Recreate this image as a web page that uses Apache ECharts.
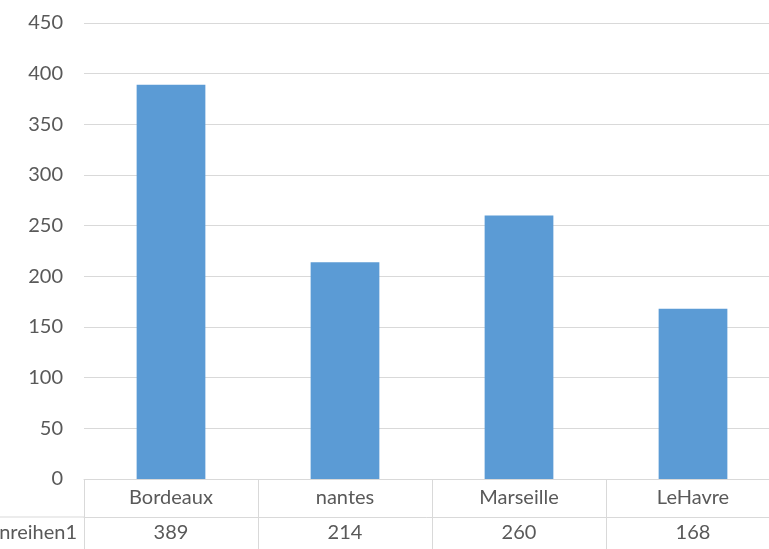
<!DOCTYPE html>
<html>
<head>
<meta charset="utf-8">
<script src="https://cdn.jsdelivr.net/npm/echarts@6/dist/echarts.min.js"></script>
<style>html,body{margin:0;padding:0;background:#fff}#c{width:769px;height:549px}</style>
</head>
<body>
<div id="c"></div>
<script>
const categories = ['Bordeaux', 'nantes', 'Marseille', 'LeHavre'];
const values = [389, 214, 260, 168];
const seriesName = 'Datenreihen1';
const yTicks = { min: 0, max: 450, interval: 50 };

const chart = echarts.init(document.getElementById('c'));
const font = 'Lato, "Noto Sans", sans-serif';
const txt = '#595959';
const line = '#D9D9D9';
chart.setOption({
  animation: false,
  grid: { left: 84, top: 23, width: 696, bottom: 70, containLabel: false, outerBoundsMode: 'none' },
  xAxis: [{
    type: 'category', data: categories, position: 'bottom',
    axisLine: { show: true, lineStyle: { color: line, width: 1 } },
    axisTick: { show: true, length: 70, lineStyle: { color: line, width: 1 } },
    axisLabel: { color: txt, fontFamily: font, fontSize: 20, margin: 9 },
    splitLine: { show: false }
  }, {
    type: 'category', data: values.map(String), position: 'bottom', offset: 38,
    axisLine: { show: true, lineStyle: { color: line, width: 1 } },
    axisTick: { show: false },
    axisLabel: { color: txt, fontFamily: font, fontSize: 20, margin: 6 },
    name: seriesName, nameLocation: 'start', nameGap: 7,
    nameTextStyle: { color: txt, fontFamily: font, fontSize: 20, verticalAlign: 'top', padding: [6, 0, 0, 0] }
  }],
  yAxis: {
    type: 'value', min: yTicks.min, max: yTicks.max, interval: yTicks.interval,
    axisLine: { show: false }, axisTick: { show: false },
    axisLabel: { color: txt, fontFamily: font, fontSize: 20, margin: 21 },
    splitLine: { lineStyle: { color: line, width: 1 } }
  },
  series: [{
    name: seriesName, type: 'bar', data: values, xAxisIndex: 0, barWidth: '39.5%',
    itemStyle: { color: '#5B9BD5' }
  }]
});
const yRow = chart.convertToPixel({ gridIndex: 0 }, [0, 0])[1] + 38;
chart.setOption({
  graphic: [{ type: 'line', shape: { x1: 0, y1: yRow, x2: 84, y2: yRow }, style: { stroke: line, lineWidth: 1 } }]
});
</script>
</body>
</html>
